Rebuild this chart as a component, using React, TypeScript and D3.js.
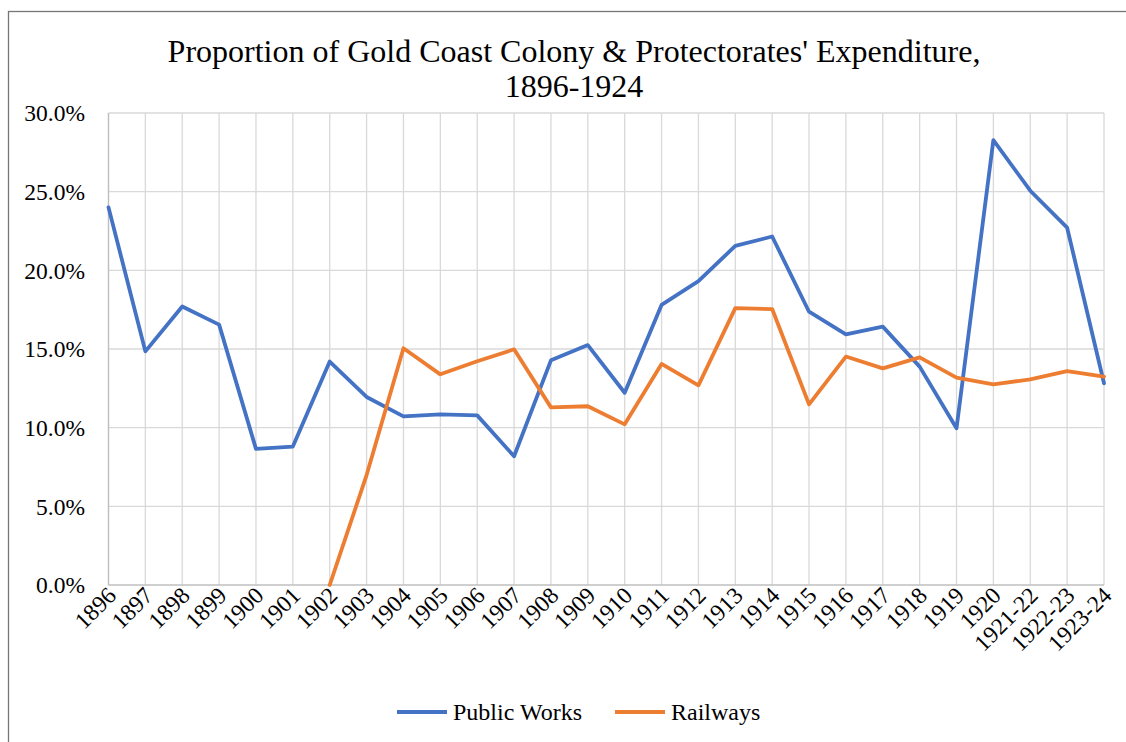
import * as d3 from "d3";
import { useEffect, useRef } from "react";

// categories along the x axis
const years = [
  "1896", "1897", "1898", "1899", "1900", "1901", "1902", "1903", "1904", "1905",
  "1906", "1907", "1908", "1909", "1910", "1911", "1912", "1913", "1914", "1915",
  "1916", "1917", "1918", "1919", "1920", "1921-22", "1922-23", "1923-24",
];

// share of expenditure, percent
const publicWorks = [
  24.0, 14.85, 17.7, 16.55, 8.65, 8.8, 14.2, 11.95, 10.72, 10.85,
  10.78, 8.18, 14.28, 15.25, 12.22, 17.8, 19.32, 21.55, 22.15, 17.37,
  15.93, 16.42, 13.88, 9.96, 28.28, 25.06, 22.71, 12.82,
];
const railways = [
  null, null, null, null, null, null, 0, 6.99, 15.05, 13.39,
  14.22, 14.98, 11.29, 11.36, 10.21, 14.05, 12.69, 17.6, 17.54, 11.48,
  14.52, 13.77, 14.47, 13.18, 12.75, 13.07, 13.6, 13.24,
];

const yTicks = [0, 5, 10, 15, 20, 25, 30];

const series = [
  { name: "Public Works", values: publicWorks, color: "#4472C4" },
  { name: "Railways", values: railways, color: "#ED7D31" },
];

export default function App() {
  const ref = useRef<SVGSVGElement>(null);

  useEffect(() => {
    const svg = d3.select(ref.current);
    svg.selectAll("*").remove();
    const font = "'Liberation Serif', 'Times New Roman', serif";

    // chart border (runs off the right and bottom edge)
    svg.append("rect")
      .attr("x", 8.5).attr("y", 11.5)
      .attr("width", 1140).attr("height", 760)
      .attr("fill", "#fff").attr("stroke", "#767676").attr("stroke-width", 1.3);

    const left = 108.5, right = 1104, top = 113, bottom = 585;

    const x = d3.scalePoint<string>().domain(years).range([left, right]);
    const y = d3.scaleLinear().domain([0, 30]).range([bottom, top]);

    // title
    const title = svg.append("text")
      .attr("text-anchor", "middle")
      .attr("font-family", font).attr("font-size", 32).attr("fill", "#000");
    title.append("tspan").attr("x", 574).attr("y", 62)
      .text("Proportion of Gold Coast Colony & Protectorates' Expenditure,");
    title.append("tspan").attr("x", 574).attr("y", 97).text("1896-1924");

    // gridlines
    svg.append("g").selectAll("line.h").data(yTicks.slice(1)).enter().append("line")
      .attr("x1", left).attr("x2", right)
      .attr("y1", (d) => y(d)).attr("y2", (d) => y(d))
      .attr("stroke", "#d9d9d9").attr("stroke-width", 1.3);
    svg.append("g").selectAll("line.v").data(years).enter().append("line")
      .attr("x1", (d) => x(d)!).attr("x2", (d) => x(d)!)
      .attr("y1", top).attr("y2", bottom)
      .attr("stroke", "#d9d9d9").attr("stroke-width", 1.3);

    // axis lines
    svg.append("line").attr("x1", left).attr("x2", left).attr("y1", top).attr("y2", bottom)
      .attr("stroke", "#bfbfbf").attr("stroke-width", 1.3);
    svg.append("line").attr("x1", left).attr("x2", right).attr("y1", bottom).attr("y2", bottom)
      .attr("stroke", "#bfbfbf").attr("stroke-width", 1.3);

    // y labels
    svg.append("g").selectAll("text").data(yTicks).enter().append("text")
      .attr("x", 85).attr("y", (d) => y(d)).attr("dy", "0.35em")
      .attr("text-anchor", "end")
      .attr("font-family", font).attr("font-size", 23.5)
      .text((d) => d3.format(".1f")(d) + "%");

    // x labels
    svg.append("g").selectAll("text").data(years).enter().append("text")
      .attr("transform", (d) => `translate(${x(d)! + 9},${bottom + 12}) rotate(-45)`)
      .attr("text-anchor", "end")
      .attr("font-family", font).attr("font-size", 23.5)
      .text((d) => d);

    // lines
    const line = d3.line<number | null>()
      .defined((d) => d !== null)
      .x((_, i) => x(years[i])!)
      .y((d) => y(d as number));

    series.forEach((s) => {
      svg.append("path")
        .datum(s.values)
        .attr("d", line)
        .attr("fill", "none")
        .attr("stroke", s.color)
        .attr("stroke-width", 3.8)
        .attr("stroke-linejoin", "round")
        .attr("stroke-linecap", "round");
    });

    // legend
    const legendX = [397, 615];
    const legend = svg.append("g");
    series.forEach((s, i) => {
      legend.append("line")
        .attr("x1", legendX[i]).attr("x2", legendX[i] + 50)
        .attr("y1", 712).attr("y2", 712)
        .attr("stroke", s.color).attr("stroke-width", 3.8);
      legend.append("text")
        .attr("x", legendX[i] + 56).attr("y", 712).attr("dy", "0.35em")
        .attr("font-family", font).attr("font-size", 24)
        .text(s.name);
    });
  }, []);

  return (
    <svg
      ref={ref}
      width={1126}
      height={742}
      style={{ position: "absolute", left: 0, top: 0 }}
    />
  );
}
